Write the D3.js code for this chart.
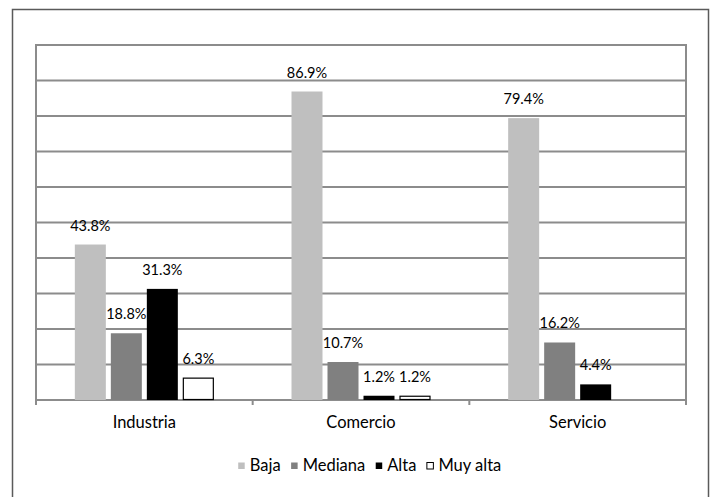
<!DOCTYPE html>
<html>
<head>
<meta charset="utf-8">
<script src="https://cdn.jsdelivr.net/npm/d3@7"></script>
<style>
  body { margin: 0; background: #fff; }
  text { font-family: Lato, "Noto Sans", sans-serif; fill: #000; }
</style>
</head>
<body>
<div id="chart"></div>
<script>
// data
var sectors = ["Industria", "Comercio", "Servicio"];
var levels = ["Baja", "Mediana", "Alta", "Muy alta"];
var baja = [43.8, 86.9, 79.4];
var mediana = [18.8, 10.7, 16.2];
var alta = [31.3, 1.2, 4.4];
var muyAlta = [6.3, 1.2, null];
var yTicks = [0, 10, 20, 30, 40, 50, 60, 70, 80, 90, 100];

var series = [baja, mediana, alta, muyAlta];
var fills = ["#bfbfbf", "#808080", "#000000", "#ffffff"];

var width = 712, height = 497;
var margin = {top: 45, right: 26, bottom: 97, left: 36};

var svg = d3.select("#chart").append("svg")
  .attr("width", width)
  .attr("height", height);

// outer frame
svg.append("rect")
  .attr("x", 12.5).attr("y", 9.5)
  .attr("width", 696).attr("height", 500)
  .attr("fill", "none")
  .attr("stroke", "#5a5a5a")
  .attr("stroke-width", 1.5);

var x0 = d3.scaleBand()
  .domain(sectors)
  .range([margin.left, width - margin.right]);

var groupW = 139;
var x1 = d3.scaleBand()
  .domain(levels)
  .range([(x0.bandwidth() - groupW) / 2, (x0.bandwidth() + groupW) / 2])
  .paddingInner(5 / 36);

var y = d3.scaleLinear()
  .domain([0, 100])
  .range([height - margin.bottom, margin.top]);

// gridlines
svg.append("g")
  .selectAll("line")
  .data(yTicks)
  .enter().append("line")
  .attr("x1", margin.left).attr("x2", width - margin.right)
  .attr("y1", function(d) { return y(d); })
  .attr("y2", function(d) { return y(d); })
  .attr("stroke", "#8c8c8c")
  .attr("stroke-width", 2);

// left axis line and right border
svg.append("line")
  .attr("x1", margin.left).attr("x2", margin.left)
  .attr("y1", y(100) - 1).attr("y2", y(0) + 5)
  .attr("stroke", "#8c8c8c").attr("stroke-width", 2);
svg.append("line")
  .attr("x1", width - margin.right).attr("x2", width - margin.right)
  .attr("y1", y(100) - 1).attr("y2", y(0) + 5)
  .attr("stroke", "#8c8c8c").attr("stroke-width", 2);

// category ticks between groups
svg.append("g")
  .selectAll("line")
  .data(sectors.slice(1))
  .enter().append("line")
  .attr("x1", function(d) { return x0(d); })
  .attr("x2", function(d) { return x0(d); })
  .attr("y1", y(0)).attr("y2", y(0) + 5)
  .attr("stroke", "#8c8c8c").attr("stroke-width", 2);

// bars
var rows = [];
sectors.forEach(function(s, i) {
  levels.forEach(function(l, j) {
    if (series[j][i] != null) rows.push({sector: s, level: l, value: series[j][i], k: j});
  });
});

var bars = svg.append("g");
bars.selectAll("rect")
  .data(rows)
  .enter().append("rect")
  .attr("x", function(d) { return x0(d.sector) + x1(d.level) + (d.k === 3 ? 0.5 : 0); })
  .attr("y", function(d) { return y(d.value) + (d.k === 3 ? 0.5 : 0); })
  .attr("width", function(d) { return x1.bandwidth() - (d.k === 3 ? 1 : 0); })
  .attr("height", function(d) { return y(0) - y(d.value) - (d.k === 3 ? 1 : 0); })
  .attr("fill", function(d) { return fills[d.k]; })
  .attr("stroke", function(d) { return d.k === 3 ? "#000" : "none"; })
  .attr("stroke-width", 1.2);

// value labels
bars.selectAll("text")
  .data(rows)
  .enter().append("text")
  .attr("x", function(d) { return x0(d.sector) + x1(d.level) + x1.bandwidth() / 2; })
  .attr("y", function(d) { return y(d.value) - 14; })
  .attr("text-anchor", "middle")
  .style("font-size", "14.5px")
  .text(function(d) { return d.value.toFixed(1) + "%"; });

// category labels
svg.append("g")
  .selectAll("text")
  .data(sectors)
  .enter().append("text")
  .attr("x", function(d) { return x0(d) + x0.bandwidth() / 2; })
  .attr("y", 428)
  .attr("text-anchor", "middle")
  .style("font-size", "16.5px")
  .text(function(d) { return d; });

// legend
var legend = svg.append("g");
var lx = 0;
levels.forEach(function(l, j) {
  legend.append("rect")
    .attr("x", lx + 0.5).attr("y", 462.5)
    .attr("width", 6.5).attr("height", 6.5)
    .attr("fill", fills[j])
    .attr("stroke", j === 3 ? "#000" : "none")
    .attr("stroke-width", 1);
  var t = legend.append("text")
    .attr("x", lx + 12).attr("y", 471)
    .style("font-size", "16.5px")
    .text(l);
  lx += 12 + t.node().getComputedTextLength() + 10;
});
var lw = lx - 10;
legend.attr("transform", "translate(" + (369.5 - lw / 2) + ",0)");
</script>
</body>
</html>
